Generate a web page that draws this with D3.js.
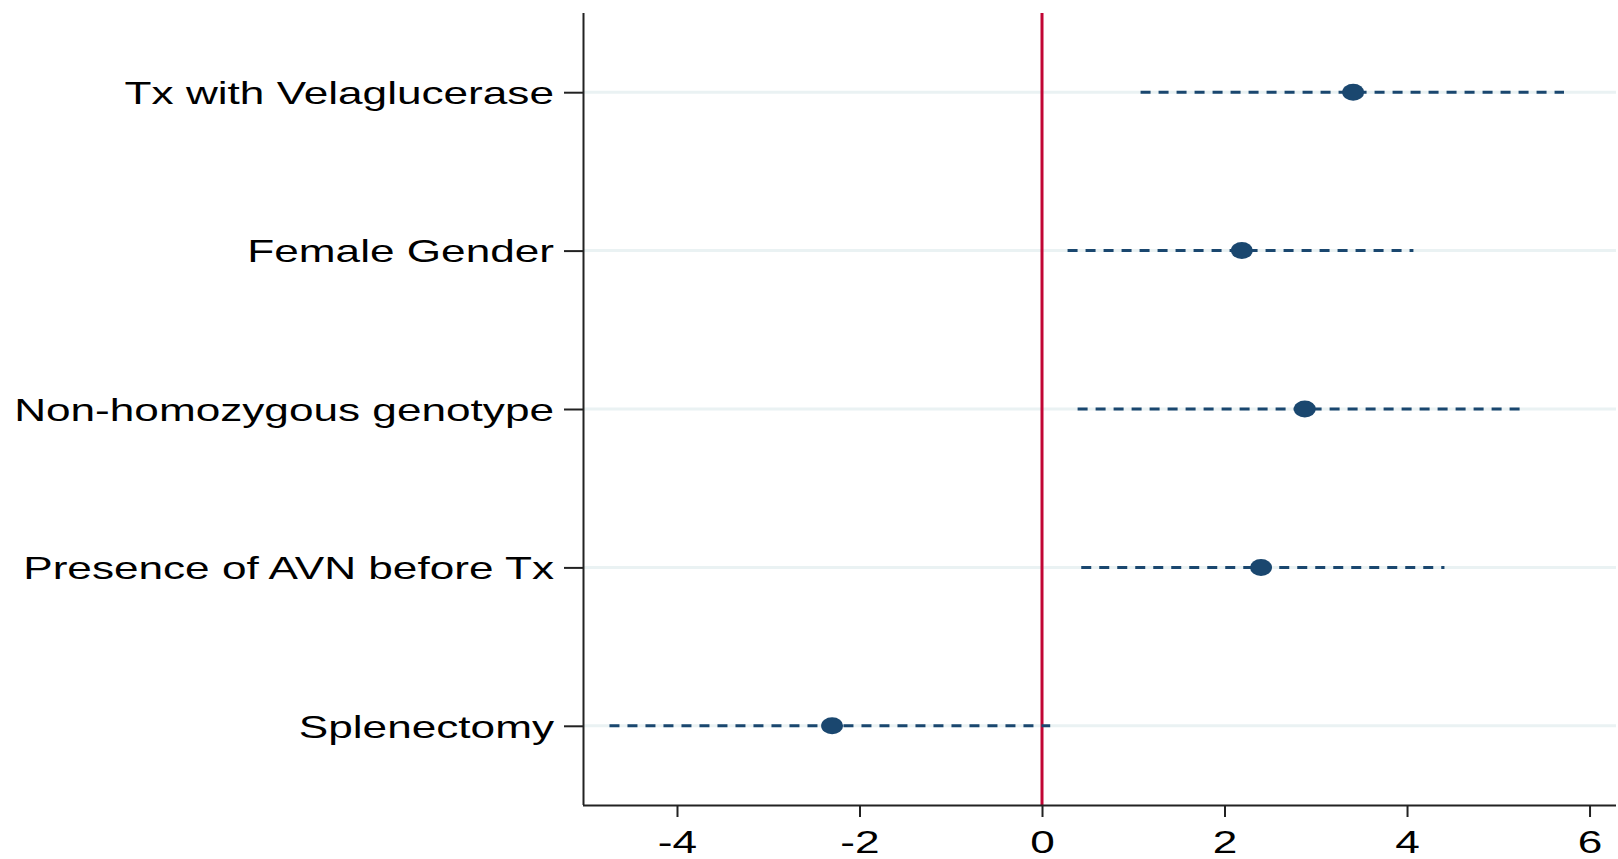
<!DOCTYPE html>
<html lang="en">

<head>
  <meta charset="UTF-8">
  <title>Forest plot</title>
  <script src="https://d3js.org/d3.v7.min.js"></script>
  <style>
    body {
      margin: 0;
      background-color: #fff;
    }

    svg {
      display: block;
      font-family: 'Liberation Sans', Arial, sans-serif;
    }
  </style>
</head>

<body>
  <svg></svg>
  <script>
    // values
    const labels = ["Tx with Velaglucerase", "Female Gender", "Non-homozygous genotype", "Presence of AVN before Tx", "Splenectomy"];
    const estimates = [3.41, 2.19, 2.88, 2.40, -2.30];
    const lower = [1.08, 0.28, 0.39, 0.43, -4.74];
    const upper = [5.72, 4.07, 5.25, 4.41, 0.09];
    const xTicks = [-4, -2, 0, 2, 4, 6];

    const width = 1618;
    const height = 859;
    const plotLeft = 583, plotRight = 1616, plotTop = 13, plotBottom = 805;
    const stretch = 1.38; // the original image is stretched sideways

    const navy = "#1a476f";
    const red = "#c10534";
    const grid = "#eaf2f3";

    const stage = d3.select("svg").attr("width", width).attr("height", height);

    const x = d3.scaleLinear().domain([-5.03, 6.29]).range([plotLeft, plotRight]);
    const y = d3.scalePoint().domain(labels).range([plotTop, plotBottom]).padding(0.5);

    const rows = labels.map((d, i) => ({ label: d, est: estimates[i], lo: lower[i], hi: upper[i] }));

    // grid lines
    stage.append("g").selectAll("line").data(labels).join("line")
      .attr("x1", plotLeft).attr("x2", plotRight)
      .attr("y1", d => y(d)).attr("y2", d => y(d))
      .attr("stroke", grid).attr("stroke-width", 3);

    // reference line at zero
    stage.append("line")
      .attr("x1", x(0)).attr("x2", x(0))
      .attr("y1", plotTop).attr("y2", plotBottom)
      .attr("stroke", red).attr("stroke-width", 3);

    // confidence intervals
    stage.append("g").selectAll("line").data(rows).join("line")
      .attr("x1", d => x(d.lo)).attr("x2", d => x(d.hi))
      .attr("y1", d => y(d.label)).attr("y2", d => y(d.label))
      .attr("stroke", navy).attr("stroke-width", 3)
      .attr("stroke-dasharray", "10,8");

    // point estimates
    stage.append("g").selectAll("ellipse").data(rows).join("ellipse")
      .attr("cx", d => x(d.est)).attr("cy", d => y(d.label))
      .attr("rx", 11).attr("ry", 8.5)
      .attr("fill", navy);

    // y axis
    const yAxis = stage.append("g")
      .attr("transform", `translate(${plotLeft},0)`)
      .call(d3.axisLeft(y).tickSize(19).tickPadding(10));
    yAxis.select(".domain").attr("stroke", "#222").attr("stroke-width", 2)
      .attr("d", `M0.5,${plotTop}V${plotBottom}`);
    yAxis.selectAll(".tick line").attr("stroke", "#222").attr("stroke-width", 2);
    yAxis.selectAll(".tick text")
      .attr("font-size", 32).attr("fill", "#000")
      .attr("font-family", "'Liberation Sans', Arial, sans-serif")
      .attr("x", null).attr("dy", "0.35em")
      .attr("transform", `translate(-29,0) scale(${stretch},1)`);

    // x axis (plain hyphen for negatives, as in the original)
    const xAxis = stage.append("g")
      .attr("transform", `translate(0,${plotBottom})`)
      .call(d3.axisBottom(x).tickValues(xTicks).tickFormat(d => String(d)).tickSize(12).tickPadding(0));
    xAxis.select(".domain").attr("stroke", "#222").attr("stroke-width", 2)
      .attr("d", `M${plotLeft},0.5H${plotRight}`);
    xAxis.selectAll(".tick line").attr("stroke", "#222").attr("stroke-width", 2);
    xAxis.selectAll(".tick text")
      .attr("font-size", 32).attr("fill", "#000")
      .attr("font-family", "'Liberation Sans', Arial, sans-serif")
      .attr("y", 0).attr("dy", 0)
      .attr("transform", `translate(0,48) scale(${stretch},1)`);
  </script>
</body>

</html>
